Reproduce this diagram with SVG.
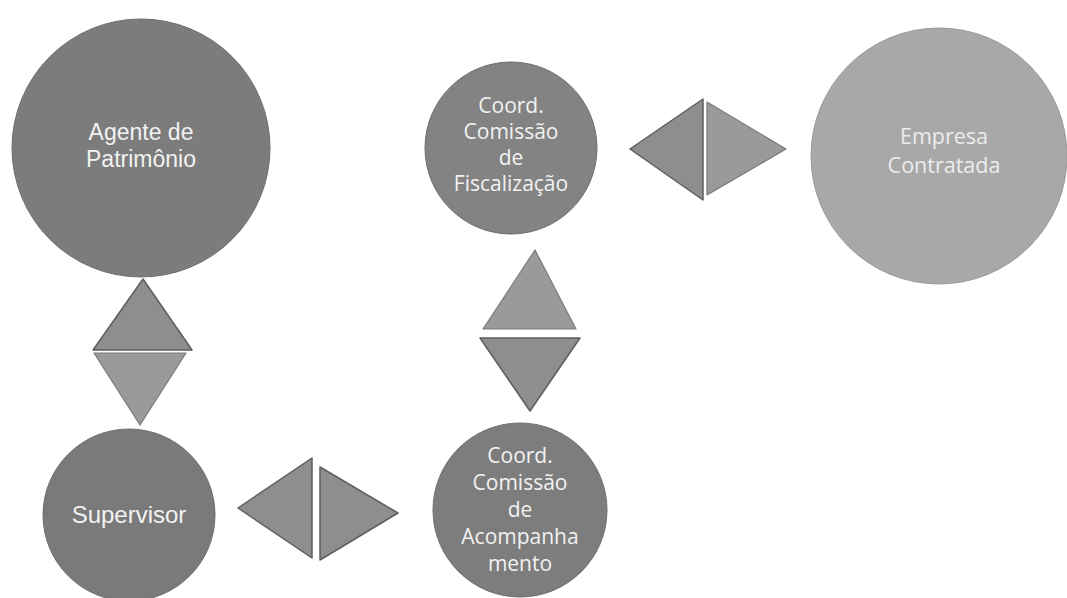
<svg xmlns="http://www.w3.org/2000/svg" width="1067" height="598" viewBox="0 0 1067 598">
<style>
.bg{fill:#ffffff}
.node{stroke:#6e6e6e;stroke-width:1}
.arial{font-family:"Liberation Sans",Arial,sans-serif;font-size:23px;fill:#f2f2f2;text-anchor:middle}
.cal{font-family:"Open Sans","Noto Sans",sans-serif;font-size:21px;fill:#f2f2f2;text-anchor:middle}
.tri{fill:#8e8e8e;stroke:#5e5e5e;stroke-width:1.5;stroke-linejoin:round}
.tri2{fill:#9a9a9a;stroke:#7a7a7a;stroke-width:1.2;stroke-linejoin:round}
</style>
<rect class="bg" x="0" y="0" width="1067" height="598"/>
<g id="connectors">
  <g id="c-agente-supervisor">
    <polygon class="tri" points="143,279 93,350 192,350"/>
    <polygon class="tri2" points="94,353 186,353 140,425"/>
  </g>
  <g id="c-supervisor-acomp">
    <polygon class="tri" points="238,508 312,458 312,558"/>
    <polygon class="tri" points="320,467 320,560 398,513"/>
  </g>
  <g id="c-fisc-acomp">
    <polygon class="tri2" points="535,250 483,329 576,329"/>
    <polygon class="tri" points="480,338 580,338 530,411"/>
  </g>
  <g id="c-fisc-empresa">
    <polygon class="tri" points="630,149 703,99 703,200"/>
    <polygon class="tri2" points="707,102 707,195 786,149"/>
  </g>
</g>
<g id="agente">
  <circle class="node" cx="141" cy="148" r="129" fill="#7c7c7c"/>
  <text class="arial" x="141" y="140">Agente de</text>
  <text class="arial" x="141" y="167">Patrimônio</text>
</g>
<g id="supervisor">
  <circle class="node" cx="129" cy="515" r="86" fill="#7a7a7a"/>
  <text class="arial" x="129" y="523" style="font-size:24px">Supervisor</text>
</g>
<g id="fiscalizacao">
  <circle class="node" cx="511" cy="148" r="86" fill="#838383"/>
  <text class="cal" x="511" y="113">Coord.</text>
  <text class="cal" x="511" y="139">Comissão</text>
  <text class="cal" x="511" y="165">de</text>
  <text class="cal" x="511" y="191">Fiscalização</text>
</g>
<g id="acompanhamento">
  <circle class="node" cx="520" cy="510" r="87" fill="#7d7d7d"/>
  <text class="cal" x="520" y="463">Coord.</text>
  <text class="cal" x="520" y="490">Comissão</text>
  <text class="cal" x="520" y="517">de</text>
  <text class="cal" x="520" y="544">Acompanha</text>
  <text class="cal" x="520" y="571">mento</text>
</g>
<g id="empresa">
  <circle cx="939" cy="156" r="128" fill="#a8a8a8" stroke="#999" stroke-width="1"/>
  <text class="cal" x="944" y="144" style="font-size:21.5px;fill:#ececec">Empresa</text>
  <text class="cal" x="944" y="173" style="font-size:21.5px;fill:#ececec">Contratada</text>
</g>
</svg>
